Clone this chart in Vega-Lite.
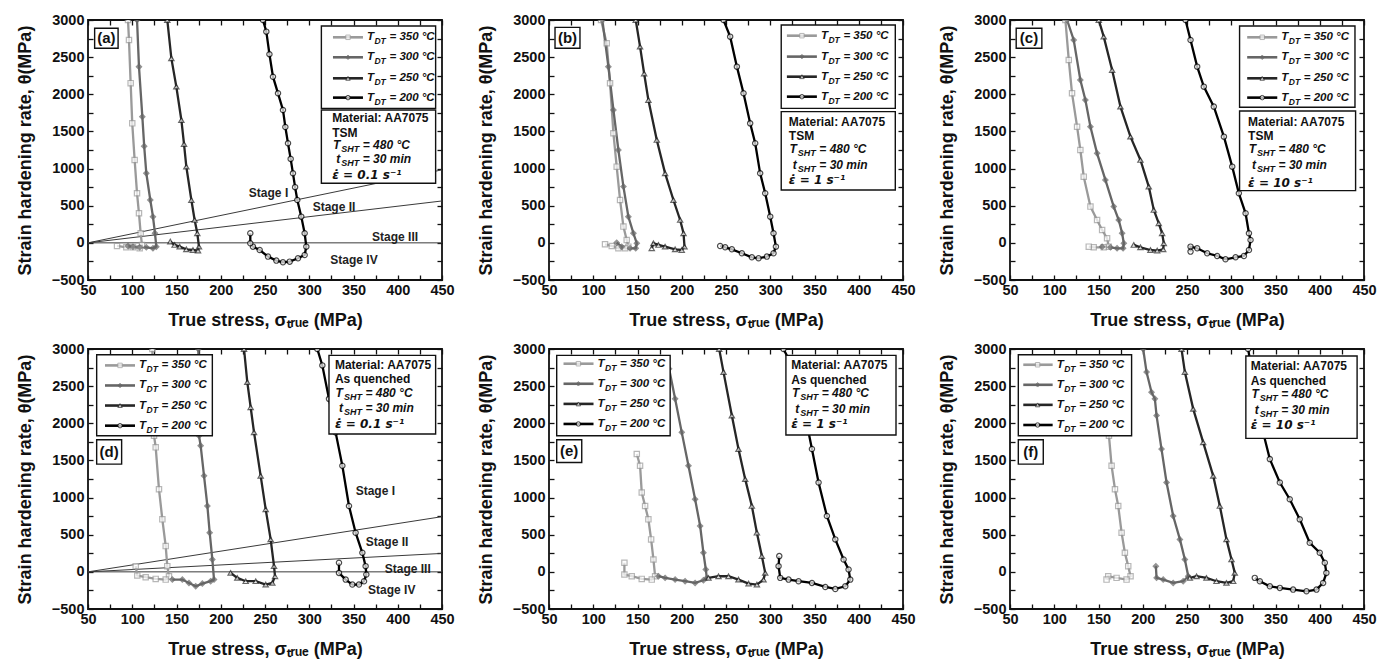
{
"$schema": "https://vega.github.io/schema/vega-lite/v6.json",
"padding": {"left": 15, "top": 11, "right": 0, "bottom": 0},
"background": "white",
"data": {"values": [
{"p":"a","k":"c","s":"350","x":95.2,"y":3000},{"p":"a","k":"c","s":"350","x":96.3,"y":2731},{"p":"a","k":"c","s":"350","x":98.2,"y":2150},{"p":"a","k":"c","s":"350","x":100,"y":1609},{"p":"a","k":"c","s":"350","x":102.7,"y":1116},{"p":"a","k":"c","s":"350","x":105.4,"y":667},{"p":"a","k":"c","s":"350","x":107.6,"y":398},{"p":"a","k":"c","s":"350","x":109.5,"y":129},{"p":"a","k":"c","s":"350","x":111,"y":-28},{"p":"a","k":"c","s":"350","x":108.4,"y":-73},{"p":"a","k":"c","s":"350","x":100.8,"y":-60},{"p":"a","k":"c","s":"350","x":93.3,"y":-60},{"p":"a","k":"c","s":"350","x":82.8,"y":-42},
{"p":"a","k":"c","s":"300","x":105.4,"y":3000},{"p":"a","k":"c","s":"300","x":107.6,"y":2372},{"p":"a","k":"c","s":"300","x":111.4,"y":1699},{"p":"a","k":"c","s":"300","x":113.5,"y":1300},{"p":"a","k":"c","s":"300","x":115.9,"y":937},{"p":"a","k":"c","s":"300","x":120.4,"y":577},{"p":"a","k":"c","s":"300","x":123.4,"y":353},{"p":"a","k":"c","s":"300","x":125.7,"y":129},{"p":"a","k":"c","s":"300","x":127.2,"y":-51},{"p":"a","k":"c","s":"300","x":123.4,"y":-73},{"p":"a","k":"c","s":"300","x":115.9,"y":-60},{"p":"a","k":"c","s":"300","x":108.4,"y":-60},{"p":"a","k":"c","s":"300","x":100.8,"y":-51},{"p":"a","k":"c","s":"300","x":95.2,"y":-42},
{"p":"a","k":"c","s":"250","x":139.6,"y":3000},{"p":"a","k":"c","s":"250","x":144.2,"y":2484},{"p":"a","k":"c","s":"250","x":149.8,"y":2103},{"p":"a","k":"c","s":"250","x":155.5,"y":1654},{"p":"a","k":"c","s":"250","x":158.5,"y":1330},{"p":"a","k":"c","s":"250","x":161.1,"y":1026},{"p":"a","k":"c","s":"250","x":166.8,"y":577},{"p":"a","k":"c","s":"250","x":170.5,"y":308},{"p":"a","k":"c","s":"250","x":173.5,"y":129},{"p":"a","k":"c","s":"250","x":175.4,"y":-51},{"p":"a","k":"c","s":"250","x":174.3,"y":-104},{"p":"a","k":"c","s":"250","x":168.6,"y":-96},{"p":"a","k":"c","s":"250","x":161.1,"y":-87},{"p":"a","k":"c","s":"250","x":153.6,"y":-51},{"p":"a","k":"c","s":"250","x":147.9,"y":-28},{"p":"a","k":"c","s":"250","x":143,"y":17},
{"p":"a","k":"c","s":"200","x":247.7,"y":3000},{"p":"a","k":"c","s":"200","x":251.5,"y":2843},{"p":"a","k":"c","s":"200","x":255,"y":2540},{"p":"a","k":"c","s":"200","x":259,"y":2237},{"p":"a","k":"c","s":"200","x":264.7,"y":2013},{"p":"a","k":"c","s":"200","x":270.3,"y":1789},{"p":"a","k":"c","s":"200","x":273,"y":1560},{"p":"a","k":"c","s":"200","x":276,"y":1340},{"p":"a","k":"c","s":"200","x":279,"y":1130},{"p":"a","k":"c","s":"200","x":281.6,"y":936},{"p":"a","k":"c","s":"200","x":284,"y":750},{"p":"a","k":"c","s":"200","x":286.5,"y":577},{"p":"a","k":"c","s":"200","x":291,"y":353},{"p":"a","k":"c","s":"200","x":294.8,"y":129},{"p":"a","k":"c","s":"200","x":296.7,"y":-51},{"p":"a","k":"c","s":"200","x":294.8,"y":-163},{"p":"a","k":"c","s":"200","x":287.3,"y":-208},{"p":"a","k":"c","s":"200","x":277.9,"y":-253},{"p":"a","k":"c","s":"200","x":270.3,"y":-262},{"p":"a","k":"c","s":"200","x":262.8,"y":-239},{"p":"a","k":"c","s":"200","x":253.4,"y":-185},{"p":"a","k":"c","s":"200","x":244,"y":-96},{"p":"a","k":"c","s":"200","x":236.4,"y":-51},{"p":"a","k":"c","s":"200","x":233.4,"y":-6},{"p":"a","k":"c","s":"200","x":233.4,"y":129},

{"p":"b","k":"c","s":"350","x":108.8,"y":3000},{"p":"b","k":"c","s":"350","x":115.2,"y":2686},{"p":"b","k":"c","s":"350","x":119,"y":2148},{"p":"b","k":"c","s":"350","x":122.8,"y":1475},{"p":"b","k":"c","s":"350","x":126.5,"y":1026},{"p":"b","k":"c","s":"350","x":130.3,"y":577},{"p":"b","k":"c","s":"350","x":134.1,"y":219},{"p":"b","k":"c","s":"350","x":137.8,"y":39},{"p":"b","k":"c","s":"350","x":139.7,"y":-51},{"p":"b","k":"c","s":"350","x":136,"y":-73},{"p":"b","k":"c","s":"350","x":128.4,"y":-73},{"p":"b","k":"c","s":"350","x":120.9,"y":-42},{"p":"b","k":"c","s":"350","x":113.3,"y":-19},
{"p":"b","k":"c","s":"300","x":110.3,"y":3000},{"p":"b","k":"c","s":"300","x":117.1,"y":2372},{"p":"b","k":"c","s":"300","x":122.8,"y":1789},{"p":"b","k":"c","s":"300","x":128.4,"y":1250},{"p":"b","k":"c","s":"300","x":134.1,"y":757},{"p":"b","k":"c","s":"300","x":139.7,"y":353},{"p":"b","k":"c","s":"300","x":145.4,"y":129},{"p":"b","k":"c","s":"300","x":149.2,"y":-6},{"p":"b","k":"c","s":"300","x":148,"y":-73},{"p":"b","k":"c","s":"300","x":141.6,"y":-73},{"p":"b","k":"c","s":"300","x":132.2,"y":-51},{"p":"b","k":"c","s":"300","x":126.5,"y":3},
{"p":"b","k":"c","s":"250","x":148,"y":3000},{"p":"b","k":"c","s":"250","x":152.9,"y":2641},{"p":"b","k":"c","s":"250","x":157.5,"y":2280},{"p":"b","k":"c","s":"250","x":162.3,"y":1923},{"p":"b","k":"c","s":"250","x":171.8,"y":1385},{"p":"b","k":"c","s":"250","x":181.2,"y":936},{"p":"b","k":"c","s":"250","x":190.6,"y":577},{"p":"b","k":"c","s":"250","x":198.2,"y":308},{"p":"b","k":"c","s":"250","x":202,"y":129},{"p":"b","k":"c","s":"250","x":203.1,"y":-51},{"p":"b","k":"c","s":"250","x":200,"y":-96},{"p":"b","k":"c","s":"250","x":192.5,"y":-87},{"p":"b","k":"c","s":"250","x":181.2,"y":-51},{"p":"b","k":"c","s":"250","x":173.7,"y":-28},{"p":"b","k":"c","s":"250","x":168,"y":-6},{"p":"b","k":"c","s":"250","x":166.1,"y":-73},
{"p":"b","k":"c","s":"200","x":247.2,"y":3000},{"p":"b","k":"c","s":"200","x":254.7,"y":2776},{"p":"b","k":"c","s":"200","x":262.3,"y":2372},{"p":"b","k":"c","s":"200","x":269.8,"y":2013},{"p":"b","k":"c","s":"200","x":277.3,"y":1609},{"p":"b","k":"c","s":"200","x":283,"y":1340},{"p":"b","k":"c","s":"200","x":288.6,"y":936},{"p":"b","k":"c","s":"200","x":294.3,"y":667},{"p":"b","k":"c","s":"200","x":300,"y":353},{"p":"b","k":"c","s":"200","x":303.7,"y":129},{"p":"b","k":"c","s":"200","x":306.4,"y":-51},{"p":"b","k":"c","s":"200","x":303.7,"y":-140},{"p":"b","k":"c","s":"200","x":296.2,"y":-185},{"p":"b","k":"c","s":"200","x":286.8,"y":-208},{"p":"b","k":"c","s":"200","x":279.2,"y":-194},{"p":"b","k":"c","s":"200","x":267.9,"y":-140},{"p":"b","k":"c","s":"200","x":256.6,"y":-87},{"p":"b","k":"c","s":"200","x":249.1,"y":-60},{"p":"b","k":"c","s":"200","x":243.4,"y":-42},

{"p":"c","k":"c","s":"350","x":112.6,"y":3000},{"p":"c","k":"c","s":"350","x":116.4,"y":2462},{"p":"c","k":"c","s":"350","x":120.1,"y":2013},{"p":"c","k":"c","s":"350","x":125.8,"y":1564},{"p":"c","k":"c","s":"350","x":129.5,"y":1250},{"p":"c","k":"c","s":"350","x":133.3,"y":891},{"p":"c","k":"c","s":"350","x":140.9,"y":488},{"p":"c","k":"c","s":"350","x":148.4,"y":308},{"p":"c","k":"c","s":"350","x":154.1,"y":174},{"p":"c","k":"c","s":"350","x":159.7,"y":61},{"p":"c","k":"c","s":"350","x":161.6,"y":-51},{"p":"c","k":"c","s":"350","x":155.9,"y":-60},{"p":"c","k":"c","s":"350","x":144.6,"y":-60},{"p":"c","k":"c","s":"350","x":139,"y":-51},
{"p":"c","k":"c","s":"300","x":114.5,"y":3000},{"p":"c","k":"c","s":"300","x":122,"y":2731},{"p":"c","k":"c","s":"300","x":129.5,"y":2192},{"p":"c","k":"c","s":"300","x":135.2,"y":1923},{"p":"c","k":"c","s":"300","x":140.9,"y":1564},{"p":"c","k":"c","s":"300","x":148.4,"y":1205},{"p":"c","k":"c","s":"300","x":157.8,"y":847},{"p":"c","k":"c","s":"300","x":167.2,"y":488},{"p":"c","k":"c","s":"300","x":172.9,"y":308},{"p":"c","k":"c","s":"300","x":176.7,"y":129},{"p":"c","k":"c","s":"300","x":178.6,"y":-6},{"p":"c","k":"c","s":"300","x":177.8,"y":-73},{"p":"c","k":"c","s":"300","x":171,"y":-73},{"p":"c","k":"c","s":"300","x":163.5,"y":-60},{"p":"c","k":"c","s":"300","x":154.1,"y":-51},
{"p":"c","k":"c","s":"250","x":150.3,"y":3000},{"p":"c","k":"c","s":"250","x":155.9,"y":2776},{"p":"c","k":"c","s":"250","x":165.4,"y":2327},{"p":"c","k":"c","s":"250","x":174.8,"y":1834},{"p":"c","k":"c","s":"250","x":186.1,"y":1430},{"p":"c","k":"c","s":"250","x":197.4,"y":1116},{"p":"c","k":"c","s":"250","x":206.8,"y":757},{"p":"c","k":"c","s":"250","x":212.5,"y":443},{"p":"c","k":"c","s":"250","x":218.1,"y":263},{"p":"c","k":"c","s":"250","x":221.9,"y":129},{"p":"c","k":"c","s":"250","x":223.8,"y":-6},{"p":"c","k":"c","s":"250","x":223.1,"y":-87},{"p":"c","k":"c","s":"250","x":216.3,"y":-104},{"p":"c","k":"c","s":"250","x":208.7,"y":-96},{"p":"c","k":"c","s":"250","x":197.4,"y":-60},{"p":"c","k":"c","s":"250","x":189.9,"y":-28},
{"p":"c","k":"c","s":"200","x":248.3,"y":3000},{"p":"c","k":"c","s":"200","x":254,"y":2731},{"p":"c","k":"c","s":"200","x":261.5,"y":2372},{"p":"c","k":"c","s":"200","x":269,"y":2103},{"p":"c","k":"c","s":"200","x":280.3,"y":1834},{"p":"c","k":"c","s":"200","x":291.7,"y":1430},{"p":"c","k":"c","s":"200","x":301.1,"y":1026},{"p":"c","k":"c","s":"200","x":308.6,"y":667},{"p":"c","k":"c","s":"200","x":316.2,"y":398},{"p":"c","k":"c","s":"200","x":320,"y":129},{"p":"c","k":"c","s":"200","x":321.8,"y":39},{"p":"c","k":"c","s":"200","x":320,"y":-96},{"p":"c","k":"c","s":"200","x":314.3,"y":-176},{"p":"c","k":"c","s":"200","x":304.9,"y":-194},{"p":"c","k":"c","s":"200","x":293.5,"y":-221},{"p":"c","k":"c","s":"200","x":284.1,"y":-176},{"p":"c","k":"c","s":"200","x":272.8,"y":-140},{"p":"c","k":"c","s":"200","x":261.5,"y":-73},{"p":"c","k":"c","s":"200","x":254,"y":-51},{"p":"c","k":"c","s":"200","x":254,"y":-118},

{"p":"d","k":"c","s":"350","x":122.7,"y":3000},{"p":"d","k":"c","s":"350","x":124.6,"y":1833},{"p":"d","k":"c","s":"350","x":126.5,"y":1676},{"p":"d","k":"c","s":"350","x":130.2,"y":1113},{"p":"d","k":"c","s":"350","x":134,"y":707},{"p":"d","k":"c","s":"350","x":137.8,"y":347},{"p":"d","k":"c","s":"350","x":139.6,"y":77},{"p":"d","k":"c","s":"350","x":141.5,"y":-59},{"p":"d","k":"c","s":"350","x":137.8,"y":-104},{"p":"d","k":"c","s":"350","x":126.5,"y":-95},{"p":"d","k":"c","s":"350","x":115.2,"y":-72},{"p":"d","k":"c","s":"350","x":105.7,"y":-50},{"p":"d","k":"c","s":"350","x":103.9,"y":77},
{"p":"d","k":"c","s":"300","x":174.7,"y":3000},{"p":"d","k":"c","s":"300","x":175.4,"y":1833},{"p":"d","k":"c","s":"300","x":177.3,"y":1698},{"p":"d","k":"c","s":"300","x":181.1,"y":1293},{"p":"d","k":"c","s":"300","x":184.9,"y":887},{"p":"d","k":"c","s":"300","x":187.5,"y":527},{"p":"d","k":"c","s":"300","x":190.5,"y":167},{"p":"d","k":"c","s":"300","x":192.4,"y":-104},{"p":"d","k":"c","s":"300","x":188.6,"y":-126},{"p":"d","k":"c","s":"300","x":179.2,"y":-158},{"p":"d","k":"c","s":"300","x":171.7,"y":-194},{"p":"d","k":"c","s":"300","x":164.1,"y":-149},{"p":"d","k":"c","s":"300","x":156.6,"y":-104},{"p":"d","k":"c","s":"300","x":145.3,"y":-104},
{"p":"d","k":"c","s":"250","x":226.3,"y":3000},{"p":"d","k":"c","s":"250","x":230,"y":2554},{"p":"d","k":"c","s":"250","x":233.8,"y":2216},{"p":"d","k":"c","s":"250","x":237.6,"y":1878},{"p":"d","k":"c","s":"250","x":245.1,"y":1293},{"p":"d","k":"c","s":"250","x":250.8,"y":842},{"p":"d","k":"c","s":"250","x":256.4,"y":437},{"p":"d","k":"c","s":"250","x":260.2,"y":77},{"p":"d","k":"c","s":"250","x":261.3,"y":-59},{"p":"d","k":"c","s":"250","x":258.3,"y":-149},{"p":"d","k":"c","s":"250","x":250.8,"y":-171},{"p":"d","k":"c","s":"250","x":239.5,"y":-126},{"p":"d","k":"c","s":"250","x":228.2,"y":-126},{"p":"d","k":"c","s":"250","x":218.7,"y":-81},{"p":"d","k":"c","s":"250","x":211.2,"y":-14},
{"p":"d","k":"c","s":"200","x":309.1,"y":3000},{"p":"d","k":"c","s":"200","x":314.8,"y":2779},{"p":"d","k":"c","s":"200","x":322.3,"y":2329},{"p":"d","k":"c","s":"200","x":329.8,"y":1878},{"p":"d","k":"c","s":"200","x":337.4,"y":1428},{"p":"d","k":"c","s":"200","x":344.9,"y":887},{"p":"d","k":"c","s":"200","x":352.4,"y":527},{"p":"d","k":"c","s":"200","x":360,"y":257},{"p":"d","k":"c","s":"200","x":363.7,"y":77},{"p":"d","k":"c","s":"200","x":364.5,"y":-36},{"p":"d","k":"c","s":"200","x":361.9,"y":-126},{"p":"d","k":"c","s":"200","x":356.2,"y":-171},{"p":"d","k":"c","s":"200","x":348.7,"y":-171},{"p":"d","k":"c","s":"200","x":341.2,"y":-104},{"p":"d","k":"c","s":"200","x":333.6,"y":-14},{"p":"d","k":"c","s":"200","x":333.6,"y":122},

{"p":"e","k":"c","s":"350","x":149.2,"y":1586},{"p":"e","k":"c","s":"350","x":152.9,"y":1428},{"p":"e","k":"c","s":"350","x":154.8,"y":1068},{"p":"e","k":"c","s":"350","x":158.6,"y":887},{"p":"e","k":"c","s":"350","x":162.3,"y":707},{"p":"e","k":"c","s":"350","x":165.4,"y":437},{"p":"e","k":"c","s":"350","x":168,"y":167},{"p":"e","k":"c","s":"350","x":169.9,"y":-59},{"p":"e","k":"c","s":"350","x":166.1,"y":-104},{"p":"e","k":"c","s":"350","x":154.8,"y":-95},{"p":"e","k":"c","s":"350","x":143.5,"y":-59},{"p":"e","k":"c","s":"350","x":135.2,"y":-36},{"p":"e","k":"c","s":"350","x":135.2,"y":122},
{"p":"e","k":"c","s":"300","x":185.7,"y":2734},{"p":"e","k":"c","s":"300","x":192.5,"y":2329},{"p":"e","k":"c","s":"300","x":200,"y":1878},{"p":"e","k":"c","s":"300","x":207.6,"y":1428},{"p":"e","k":"c","s":"300","x":215.1,"y":977},{"p":"e","k":"c","s":"300","x":220.8,"y":617},{"p":"e","k":"c","s":"300","x":224.5,"y":257},{"p":"e","k":"c","s":"300","x":227.2,"y":32},{"p":"e","k":"c","s":"300","x":228.3,"y":-81},{"p":"e","k":"c","s":"300","x":224.5,"y":-113},{"p":"e","k":"c","s":"300","x":215.1,"y":-149},{"p":"e","k":"c","s":"300","x":203.8,"y":-126},{"p":"e","k":"c","s":"300","x":192.5,"y":-104},{"p":"e","k":"c","s":"300","x":181.2,"y":-81},{"p":"e","k":"c","s":"300","x":173.7,"y":-59},
{"p":"e","k":"c","s":"250","x":242.3,"y":3000},{"p":"e","k":"c","s":"250","x":247.2,"y":2689},{"p":"e","k":"c","s":"250","x":256.6,"y":2104},{"p":"e","k":"c","s":"250","x":264.1,"y":1653},{"p":"e","k":"c","s":"250","x":271.7,"y":1248},{"p":"e","k":"c","s":"250","x":279.2,"y":887},{"p":"e","k":"c","s":"250","x":284.9,"y":527},{"p":"e","k":"c","s":"250","x":290.5,"y":212},{"p":"e","k":"c","s":"250","x":294.3,"y":-14},{"p":"e","k":"c","s":"250","x":292.4,"y":-104},{"p":"e","k":"c","s":"250","x":284.9,"y":-171},{"p":"e","k":"c","s":"250","x":275.5,"y":-158},{"p":"e","k":"c","s":"250","x":264.1,"y":-104},{"p":"e","k":"c","s":"250","x":252.8,"y":-59},{"p":"e","k":"c","s":"250","x":241.5,"y":-59},{"p":"e","k":"c","s":"250","x":230.2,"y":-81},
{"p":"e","k":"c","s":"200","x":315,"y":3000},{"p":"e","k":"c","s":"200","x":326.3,"y":2734},{"p":"e","k":"c","s":"200","x":339.5,"y":2104},{"p":"e","k":"c","s":"200","x":347.1,"y":1653},{"p":"e","k":"c","s":"200","x":354.6,"y":1203},{"p":"e","k":"c","s":"200","x":364,"y":752},{"p":"e","k":"c","s":"200","x":373.5,"y":437},{"p":"e","k":"c","s":"200","x":382.9,"y":167},{"p":"e","k":"c","s":"200","x":388.5,"y":32},{"p":"e","k":"c","s":"200","x":390.4,"y":-104},{"p":"e","k":"c","s":"200","x":384.8,"y":-194},{"p":"e","k":"c","s":"200","x":373.5,"y":-230},{"p":"e","k":"c","s":"200","x":362.2,"y":-203},{"p":"e","k":"c","s":"200","x":347.1,"y":-149},{"p":"e","k":"c","s":"200","x":332,"y":-126},{"p":"e","k":"c","s":"200","x":320.7,"y":-104},{"p":"e","k":"c","s":"200","x":311.3,"y":-81},{"p":"e","k":"c","s":"200","x":309.4,"y":77},{"p":"e","k":"c","s":"200","x":310.2,"y":212},

{"p":"f","k":"c","s":"350","x":161.8,"y":1833},{"p":"f","k":"c","s":"350","x":164.8,"y":1428},{"p":"f","k":"c","s":"350","x":168.6,"y":1113},{"p":"f","k":"c","s":"350","x":172.3,"y":887},{"p":"f","k":"c","s":"350","x":176.1,"y":527},{"p":"f","k":"c","s":"350","x":179.8,"y":257},{"p":"f","k":"c","s":"350","x":183.6,"y":77},{"p":"f","k":"c","s":"350","x":186.2,"y":-59},{"p":"f","k":"c","s":"350","x":181.7,"y":-104},{"p":"f","k":"c","s":"350","x":170.4,"y":-81},{"p":"f","k":"c","s":"350","x":161,"y":-59},{"p":"f","k":"c","s":"350","x":159.1,"y":-104},
{"p":"f","k":"c","s":"300","x":200.5,"y":3000},{"p":"f","k":"c","s":"300","x":204.3,"y":2689},{"p":"f","k":"c","s":"300","x":209.9,"y":2419},{"p":"f","k":"c","s":"300","x":213.7,"y":2329},{"p":"f","k":"c","s":"300","x":215.6,"y":2104},{"p":"f","k":"c","s":"300","x":221.2,"y":1653},{"p":"f","k":"c","s":"300","x":226.9,"y":1203},{"p":"f","k":"c","s":"300","x":234.4,"y":752},{"p":"f","k":"c","s":"300","x":242,"y":437},{"p":"f","k":"c","s":"300","x":247.6,"y":167},{"p":"f","k":"c","s":"300","x":251.4,"y":-59},{"p":"f","k":"c","s":"300","x":245.7,"y":-126},{"p":"f","k":"c","s":"300","x":234.4,"y":-149},{"p":"f","k":"c","s":"300","x":223.1,"y":-104},{"p":"f","k":"c","s":"300","x":215.6,"y":-81},{"p":"f","k":"c","s":"300","x":214.8,"y":77},
{"p":"f","k":"c","s":"250","x":243.8,"y":3000},{"p":"f","k":"c","s":"250","x":247.6,"y":2689},{"p":"f","k":"c","s":"250","x":257,"y":2194},{"p":"f","k":"c","s":"250","x":268.3,"y":1743},{"p":"f","k":"c","s":"250","x":279.6,"y":1293},{"p":"f","k":"c","s":"250","x":287.1,"y":887},{"p":"f","k":"c","s":"250","x":294.6,"y":437},{"p":"f","k":"c","s":"250","x":300.3,"y":167},{"p":"f","k":"c","s":"250","x":304,"y":-14},{"p":"f","k":"c","s":"250","x":302.2,"y":-126},{"p":"f","k":"c","s":"250","x":294.6,"y":-149},{"p":"f","k":"c","s":"250","x":283.3,"y":-126},{"p":"f","k":"c","s":"250","x":272,"y":-81},{"p":"f","k":"c","s":"250","x":260.8,"y":-59},{"p":"f","k":"c","s":"250","x":253.2,"y":-81},
{"p":"f","k":"c","s":"200","x":319.1,"y":3000},{"p":"f","k":"c","s":"200","x":328.5,"y":2329},{"p":"f","k":"c","s":"200","x":336,"y":1878},{"p":"f","k":"c","s":"200","x":343.6,"y":1518},{"p":"f","k":"c","s":"200","x":354.9,"y":1203},{"p":"f","k":"c","s":"200","x":366.1,"y":977},{"p":"f","k":"c","s":"200","x":377.4,"y":707},{"p":"f","k":"c","s":"200","x":388.7,"y":392},{"p":"f","k":"c","s":"200","x":400,"y":257},{"p":"f","k":"c","s":"200","x":405.7,"y":122},{"p":"f","k":"c","s":"200","x":407.5,"y":-14},{"p":"f","k":"c","s":"200","x":403.8,"y":-149},{"p":"f","k":"c","s":"200","x":396.3,"y":-239},{"p":"f","k":"c","s":"200","x":385,"y":-262},{"p":"f","k":"c","s":"200","x":369.9,"y":-239},{"p":"f","k":"c","s":"200","x":354.9,"y":-216},{"p":"f","k":"c","s":"200","x":343.6,"y":-194},{"p":"f","k":"c","s":"200","x":332.3,"y":-126},{"p":"f","k":"c","s":"200","x":326.6,"y":-81},

{"p":"a","k":"st","x":50,"y":0,"x2":450,"y2":983},{"p":"a","k":"st","x":50,"y":0,"x2":450,"y2":564},{"p":"a","k":"st","x":50,"y":0,"x2":450,"y2":0},
{"p":"d","k":"st","x":50,"y":0,"x2":450,"y2":743},{"p":"d","k":"st","x":50,"y":0,"x2":450,"y2":248},{"p":"d","k":"st","x":50,"y":0,"x2":450,"y2":0},
{"p":"a","k":"sl","txt":"Stage I","x":254,"y":676},{"p":"a","k":"sl","txt":"Stage II","x":328,"y":488},{"p":"a","k":"sl","txt":"Stage III","x":397,"y":75},{"p":"a","k":"sl","txt":"Stage IV","x":350.6,"y":-230},
{"p":"d","k":"sl","txt":"Stage I","x":374.7,"y":1090},{"p":"d","k":"sl","txt":"Stage II","x":387.9,"y":405},{"p":"d","k":"sl","txt":"Stage III","x":411.3,"y":41},{"p":"d","k":"sl","txt":"Stage IV","x":393.2,"y":-248},

{"p":"a","k":"bx","x":313.7,"x2":442.8,"y":2919,"y2":1811},{"p":"a","k":"bx","x":313.7,"x2":442.8,"y":1789,"y2":802},{"p":"a","k":"bx","x":57.5,"x2":84,"y":2888,"y2":2619},
{"p":"b","k":"bx","x":312.4,"x2":441.3,"y":2933,"y2":1811},{"p":"b","k":"bx","x":312.4,"x2":441.3,"y":1766,"y2":712},{"p":"b","k":"bx","x":56.8,"x2":85,"y":2901,"y2":2619},
{"p":"c","k":"bx","x":309.4,"x2":439.8,"y":2919,"y2":1825},{"p":"c","k":"bx","x":309.4,"x2":440.5,"y":1775,"y2":703},{"p":"c","k":"bx","x":57,"x2":86,"y":2888,"y2":2619},
{"p":"d","k":"bx","x":59.8,"x2":190.5,"y":2923,"y2":1833},{"p":"d","k":"bx","x":322.3,"x2":442.8,"y":2914,"y2":1856},{"p":"d","k":"bx","x":59.8,"x2":88,"y":1779,"y2":1450},
{"p":"e","k":"bx","x":58.7,"x2":186.9,"y":2914,"y2":1833},{"p":"e","k":"bx","x":317.7,"x2":442.1,"y":2914,"y2":1842},{"p":"e","k":"bx","x":58.7,"x2":87,"y":1779,"y2":1473},
{"p":"f","k":"bx","x":59.4,"x2":187.4,"y":2923,"y2":1833},{"p":"f","k":"bx","x":316.5,"x2":442.2,"y":2905,"y2":1797},{"p":"f","k":"bx","x":59.4,"x2":87.6,"y":1779,"y2":1450},

{"p":"a","k":"pl","txt":"(a)","x":70.7,"y":2753},{"p":"b","k":"pl","txt":"(b)","x":70.9,"y":2760},{"p":"c","k":"pl","txt":"(c)","x":71.5,"y":2753},
{"p":"d","k":"pl","txt":"(d)","x":73.9,"y":1614},{"p":"e","k":"pl","txt":"(e)","x":72.8,"y":1626},{"p":"f","k":"pl","txt":"(f)","x":73.5,"y":1614},

{"p":"a","k":"lg","s":"350","x":326.8,"x2":360.7,"xm":343.8,"y":2767,"r":"= 350 °C"},{"p":"a","k":"lg","s":"300","x":326.8,"x2":360.7,"xm":343.8,"y":2498,"r":"= 300 °C"},{"p":"a","k":"lg","s":"250","x":326.8,"x2":360.7,"xm":343.8,"y":2215,"r":"= 250 °C"},{"p":"a","k":"lg","s":"200","x":326.8,"x2":360.7,"xm":343.8,"y":1955,"r":"= 200 °C"},
{"p":"b","k":"lg","s":"350","x":318.8,"x2":352.7,"xm":335.8,"y":2789,"r":"= 350 °C"},{"p":"b","k":"lg","s":"300","x":318.8,"x2":352.7,"xm":335.8,"y":2507,"r":"= 300 °C"},{"p":"b","k":"lg","s":"250","x":318.8,"x2":352.7,"xm":335.8,"y":2237,"r":"= 250 °C"},{"p":"b","k":"lg","s":"200","x":318.8,"x2":352.7,"xm":335.8,"y":1968,"r":"= 200 °C"},
{"p":"c","k":"lg","s":"350","x":318,"x2":352,"xm":335,"y":2767,"r":"= 350 °C"},{"p":"c","k":"lg","s":"300","x":318,"x2":352,"xm":335,"y":2498,"r":"= 300 °C"},{"p":"c","k":"lg","s":"250","x":318,"x2":352,"xm":335,"y":2215,"r":"= 250 °C"},{"p":"c","k":"lg","s":"200","x":318,"x2":352,"xm":335,"y":1955,"r":"= 200 °C"},
{"p":"d","k":"lg","s":"350","x":69.2,"x2":103.1,"xm":86.2,"y":2779,"r":"= 350 °C"},{"p":"d","k":"lg","s":"300","x":69.2,"x2":103.1,"xm":86.2,"y":2509,"r":"= 300 °C"},{"p":"d","k":"lg","s":"250","x":69.2,"x2":103.1,"xm":86.2,"y":2239,"r":"= 250 °C"},{"p":"d","k":"lg","s":"200","x":69.2,"x2":103.1,"xm":86.2,"y":1968,"r":"= 200 °C"},
{"p":"e","k":"lg","s":"350","x":66.4,"x2":100.3,"xm":83.2,"y":2802,"r":"= 350 °C"},{"p":"e","k":"lg","s":"300","x":66.4,"x2":100.3,"xm":83.2,"y":2532,"r":"= 300 °C"},{"p":"e","k":"lg","s":"250","x":66.4,"x2":100.3,"xm":83.2,"y":2261,"r":"= 250 °C"},{"p":"e","k":"lg","s":"200","x":66.4,"x2":100.3,"xm":83.2,"y":1991,"r":"= 200 °C"},
{"p":"f","k":"lg","s":"350","x":65,"x2":98.2,"xm":81.2,"y":2788,"r":"= 350 °C"},{"p":"f","k":"lg","s":"300","x":65,"x2":98.2,"xm":81.2,"y":2518,"r":"= 300 °C"},{"p":"f","k":"lg","s":"250","x":65,"x2":98.2,"xm":81.2,"y":2248,"r":"= 250 °C"},{"p":"f","k":"lg","s":"200","x":65,"x2":98.2,"xm":81.2,"y":1977,"r":"= 200 °C"},

{"p":"a","k":"il","txt":"Material: AA7075","x":326,"y":1677},{"p":"a","k":"il","txt":"TSM","x":326,"y":1484},{"p":"a","k":"iT","m":"T","r":"= 480 °C","x":326,"y":1318},{"p":"a","k":"iT","m":"t","r":"= 30 min","x":326,"y":1125},{"p":"a","k":"ie","txt":"ε̇ = 0.1 s⁻¹","x":326,"y":914},
{"p":"b","k":"il","txt":"Material: AA7075","x":321,"y":1623},{"p":"b","k":"il","txt":"TSM","x":321,"y":1439},{"p":"b","k":"iT","m":"T","r":"= 480 °C","x":321,"y":1259},{"p":"b","k":"iT","m":"t","r":"= 30 min","x":321,"y":1049},{"p":"b","k":"ie","txt":"ε̇ = 1 s⁻¹","x":321,"y":847},
{"p":"c","k":"il","txt":"Material: AA7075","x":319,"y":1632},{"p":"c","k":"il","txt":"TSM","x":319,"y":1439},{"p":"c","k":"iT","m":"T","r":"= 480 °C","x":319,"y":1259},{"p":"c","k":"iT","m":"t","r":"= 30 min","x":319,"y":1049},{"p":"c","k":"ie","txt":"ε̇ = 10 s⁻¹","x":319,"y":811},
{"p":"d","k":"il","txt":"Material: AA7075","x":329,"y":2779},{"p":"d","k":"il","txt":"As quenched","x":329,"y":2590},{"p":"d","k":"iT","m":"T","r":"= 480 °C","x":329,"y":2410},{"p":"d","k":"iT","m":"t","r":"= 30 min","x":329,"y":2203},{"p":"d","k":"ie","txt":"ε̇ = 0.1 s⁻¹","x":329,"y":1990},
{"p":"e","k":"il","txt":"Material: AA7075","x":323.7,"y":2779},{"p":"e","k":"il","txt":"As quenched","x":323.7,"y":2586},{"p":"e","k":"iT","m":"T","r":"= 480 °C","x":323.7,"y":2405},{"p":"e","k":"iT","m":"t","r":"= 30 min","x":323.7,"y":2194},{"p":"e","k":"ie","txt":"ε̇ = 1 s⁻¹","x":323.7,"y":1990},
{"p":"f","k":"il","txt":"Material: AA7075","x":322,"y":2770},{"p":"f","k":"il","txt":"As quenched","x":322,"y":2572},{"p":"f","k":"iT","m":"T","r":"= 480 °C","x":322,"y":2392},{"p":"f","k":"iT","m":"t","r":"= 30 min","x":322,"y":2180},{"p":"f","k":"ie","txt":"ε̇ = 10 s⁻¹","x":322,"y":1975}
]},
"columns": 3,
"spacing": {"row": 9, "column": 21},
"facet": {"field": "p", "type": "nominal", "title": null, "header": {"labels": false, "labelExpr": "''", "labelFontSize": 0, "labelPadding": 0, "titlePadding": 0, "labelLimit": 1}},
"resolve": {"axis": {"x": "independent", "y": "independent"}},
"spec": {
  "width": 354,
  "height": 260,
  "resolve": {"axis": {"x": "independent", "y": "independent"}},
  "layer": [
    {"transform": [{"filter": "datum.k == 'st'"}],
     "mark": {"type": "rule", "color": "#3a3a3a", "strokeWidth": 1, "clip": true},
     "encoding": {
       "x": {"field": "x", "type": "quantitative", "scale": {"domain": [50, 450], "nice": false, "zero": false}, "axis": null},
       "y": {"field": "y", "type": "quantitative", "scale": {"domain": [-500, 3000], "nice": false, "zero": false}, "axis": null},
       "x2": {"field": "x2"}, "y2": {"field": "y2"}}},
    {"transform": [{"filter": "datum.k == 'c'"}],
     "mark": {"type": "line", "strokeWidth": 2.3, "clip": true},
     "encoding": {
       "x": {"field": "x", "type": "quantitative", "scale": {"domain": [50, 450], "nice": false, "zero": false},
             "axis": {"orient": "bottom", "values": [50,75,100,125,150,175,200,225,250,275,300,325,350,375,400,425,450], "format": "d", "labelExpr": "datum.value % 50 == 0 ? datum.label : ''", "tickSize": -5, "labelPadding": 8, "labelOverlap": false, "labelFlush": false, "title": "True stress, σₜᵣᵤₑ (MPa)", "titlePadding": 15}},
       "y": {"field": "y", "type": "quantitative", "scale": {"domain": [-500, 3000], "nice": false, "zero": false},
             "axis": {"orient": "left", "values": [-500,-250,0,250,500,750,1000,1250,1500,1750,2000,2250,2500,2750,3000], "format": "d", "labelExpr": "datum.value % 500 == 0 ? datum.label : ''", "tickSize": -5, "labelPadding": 9, "labelOverlap": false, "labelFlush": false, "title": "Strain hardening rate, θ(MPa)", "titlePadding": 17}},
       "color": {"field": "s", "type": "nominal", "scale": {"domain": ["350","300","250","200"], "range": ["#9a9a9a","#666666","#262626","#000000"]}, "legend": null},
       "order": {"value": null}}},
    {"transform": [{"filter": "datum.k == 'c'"}],
     "mark": {"type": "point", "filled": true, "size": 28, "strokeWidth": 1.2, "clip": true},
     "encoding": {
       "x": {"field": "x", "type": "quantitative", "scale": {"domain": [50, 450], "nice": false, "zero": false},
             "axis": {"orient": "top", "values": [50,75,100,125,150,175,200,225,250,275,300,325,350,375,400,425,450], "labels": false, "tickSize": -5, "title": null}},
       "y": {"field": "y", "type": "quantitative", "scale": {"domain": [-500, 3000], "nice": false, "zero": false},
             "axis": {"orient": "right", "values": [-500,-250,0,250,500,750,1000,1250,1500,1750,2000,2250,2500,2750,3000], "labels": false, "tickSize": -5, "title": null}},
       "stroke": {"field": "s", "type": "nominal", "scale": {"domain": ["350","300","250","200"], "range": ["#9a9a9a","#666666","#262626","#000000"]}, "legend": null},
       "fill": {"field": "s", "type": "nominal", "scale": {"domain": ["350","300","250","200"], "range": ["#ffffff","#666666","#ffffff","#ffffff"]}, "legend": null},
       "shape": {"field": "s", "type": "nominal", "scale": {"domain": ["350","300","250","200"], "range": ["square","diamond","triangle-up","circle"]}, "legend": null}}},
    {"transform": [{"filter": "datum.k == 'sl'"}],
     "mark": {"type": "text", "fontSize": 12, "fontWeight": "bold", "align": "center", "baseline": "middle", "color": "#222"},
     "encoding": {
       "x": {"field": "x", "type": "quantitative", "axis": null},
       "y": {"field": "y", "type": "quantitative", "axis": null},
       "text": {"field": "txt"}}},
    {"transform": [{"filter": "datum.k == 'bx'"}],
     "mark": {"type": "rect", "fill": "white", "stroke": "#111", "strokeWidth": 1.4},
     "encoding": {
       "x": {"field": "x", "type": "quantitative", "axis": null},
       "x2": {"field": "x2"},
       "y": {"field": "y", "type": "quantitative", "axis": null},
       "y2": {"field": "y2"}}},
    {"transform": [{"filter": "datum.k == 'lg'"}],
     "mark": {"type": "rule", "strokeWidth": 2.6},
     "encoding": {
       "x": {"field": "x", "type": "quantitative", "axis": null},
       "x2": {"field": "x2"},
       "y": {"field": "y", "type": "quantitative", "axis": null},
       "color": {"field": "s", "type": "nominal", "legend": null}}},
    {"transform": [{"filter": "datum.k == 'lg'"}],
     "mark": {"type": "point", "filled": true, "size": 20, "strokeWidth": 1},
     "encoding": {
       "x": {"field": "xm", "type": "quantitative", "axis": null},
       "y": {"field": "y", "type": "quantitative", "axis": null},
       "stroke": {"field": "s", "type": "nominal", "legend": null},
       "fill": {"field": "s", "type": "nominal", "legend": null},
       "shape": {"field": "s", "type": "nominal", "legend": null}}},
    {"transform": [{"filter": "datum.k == 'lg'"}],
     "mark": {"type": "text", "text": "T", "fontSize": 11.5, "fontWeight": "bold", "fontStyle": "italic", "align": "left", "baseline": "middle", "dx": 4, "color": "#111"},
     "encoding": {
       "x": {"field": "x2", "type": "quantitative", "axis": null},
       "y": {"field": "y", "type": "quantitative", "axis": null}}},
    {"transform": [{"filter": "datum.k == 'lg'"}],
     "mark": {"type": "text", "text": "DT", "fontSize": 8.5, "fontWeight": "bold", "fontStyle": "italic", "align": "left", "baseline": "middle", "dx": 11.5, "dy": 4, "color": "#111"},
     "encoding": {
       "x": {"field": "x2", "type": "quantitative", "axis": null},
       "y": {"field": "y", "type": "quantitative", "axis": null}}},
    {"transform": [{"filter": "datum.k == 'lg'"}],
     "mark": {"type": "text", "fontSize": 11.5, "fontWeight": "bold", "fontStyle": "italic", "align": "left", "baseline": "middle", "dx": 26.5, "color": "#111"},
     "encoding": {
       "x": {"field": "x2", "type": "quantitative", "axis": null},
       "y": {"field": "y", "type": "quantitative", "axis": null},
       "text": {"field": "r"}}},
    {"transform": [{"filter": "datum.k == 'il'"}],
     "mark": {"type": "text", "fontSize": 12, "fontWeight": "bold", "align": "left", "baseline": "middle", "color": "#111"},
     "encoding": {
       "x": {"field": "x", "type": "quantitative", "axis": null},
       "y": {"field": "y", "type": "quantitative", "axis": null},
       "text": {"field": "txt"}}},
    {"transform": [{"filter": "datum.k == 'ie'"}],
     "mark": {"type": "text", "fontSize": 12, "fontWeight": "bold", "fontStyle": "italic", "align": "left", "baseline": "middle", "color": "#111", "font": "DejaVu Sans"},
     "encoding": {
       "x": {"field": "x", "type": "quantitative", "axis": null},
       "y": {"field": "y", "type": "quantitative", "axis": null},
       "text": {"field": "txt"}}},
    {"transform": [{"filter": "datum.k == 'iT'"}],
     "mark": {"type": "text", "fontSize": 12, "fontWeight": "bold", "fontStyle": "italic", "align": "right", "baseline": "middle", "dx": 8, "color": "#111"},
     "encoding": {
       "x": {"field": "x", "type": "quantitative", "axis": null},
       "y": {"field": "y", "type": "quantitative", "axis": null},
       "text": {"field": "m"}}},
    {"transform": [{"filter": "datum.k == 'iT'"}],
     "mark": {"type": "text", "text": "SHT", "fontSize": 9, "fontWeight": "bold", "fontStyle": "italic", "align": "left", "baseline": "middle", "dx": 9, "dy": 4, "color": "#111"},
     "encoding": {
       "x": {"field": "x", "type": "quantitative", "axis": null},
       "y": {"field": "y", "type": "quantitative", "axis": null}}},
    {"transform": [{"filter": "datum.k == 'iT'"}],
     "mark": {"type": "text", "fontSize": 12, "fontWeight": "bold", "fontStyle": "italic", "align": "left", "baseline": "middle", "dx": 30.5, "color": "#111"},
     "encoding": {
       "x": {"field": "x", "type": "quantitative", "axis": null},
       "y": {"field": "y", "type": "quantitative", "axis": null},
       "text": {"field": "r"}}},
    {"transform": [{"filter": "datum.k == 'pl'"}],
     "mark": {"type": "text", "fontSize": 15, "fontWeight": "bold", "align": "center", "baseline": "middle", "color": "#111"},
     "encoding": {
       "x": {"field": "x", "type": "quantitative", "axis": null},
       "y": {"field": "y", "type": "quantitative", "axis": null},
       "text": {"field": "txt"}}}
  ]
},
"config": {
  "view": {"stroke": "#111", "strokeWidth": 1.8},
  "font": "Liberation Sans",
  "header": {"labels": false, "labelExpr": "''", "labelFontSize": 0, "labelPadding": 0, "titlePadding": 0},
  "headerFacet": {"labels": false, "labelExpr": "''", "labelFontSize": 0, "labelPadding": 0, "titlePadding": 0},
  "axis": {"grid": false, "domain": false, "tickColor": "#111", "tickWidth": 1.3, "labelColor": "#111", "titleColor": "#111", "labelFont": "Liberation Sans", "titleFont": "Liberation Sans", "labelFontWeight": "bold", "titleFontWeight": "bold", "labelFontSize": 14.5, "titleFontSize": 18},
  "text": {"font": "Liberation Sans"}
}
}
